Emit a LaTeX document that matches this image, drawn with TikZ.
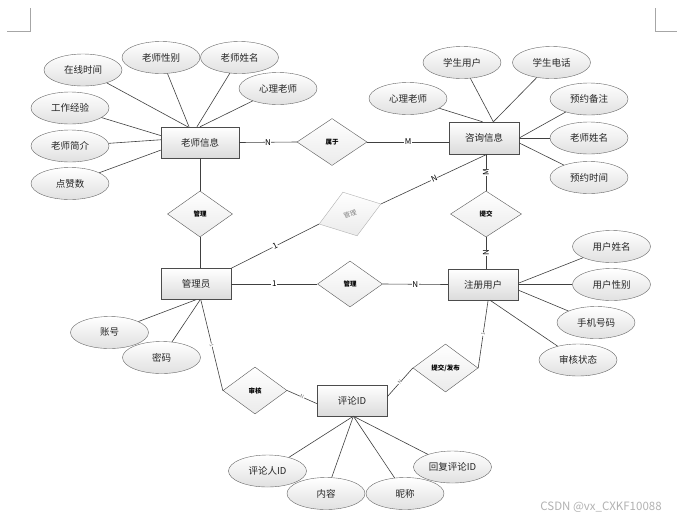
\documentclass[tikz,border=0pt]{standalone}
\usepackage{fontspec}
\setmainfont{Noto Sans CJK SC}
\usetikzlibrary{shapes.geometric,calc}

\tikzset{
  entity/.style={rectangle, draw=black!70, top color=white, bottom color=black!14,
    minimum width=70pt, minimum height=31pt, inner sep=0pt, text=black!85,
    font=\fontsize{9.5}{11}\selectfont},
  attr/.style={ellipse, draw=black!60, top color=white, bottom color=black!12,
    minimum width=78pt, minimum height=32pt, inner sep=0pt, text=black!85,
    font=\fontsize{9.5}{11}\selectfont},
  rel/.style={diamond, aspect=1.4, draw=black!65, top color=white, bottom color=black!8,
    minimum width=65pt, minimum height=46pt, inner sep=0pt,
    font=\fontsize{6.5}{7}\selectfont\bfseries},
  link/.style={draw=black!75, line width=0.6pt},
  card/.style={fill=white, inner sep=0.6pt, font=\fontsize{8}{9}\selectfont},
  tinycard/.style={fill=white, inner sep=0.3pt, sloped, text=black!55,
    font=\fontsize{5}{5}\selectfont}
}

\begin{document}
\begin{tikzpicture}[x=1pt, y=-1pt]
    \path[use as bounding box, fill=white] (0,0) rectangle (677,520);
    %Page corners
    \draw[black!35] (7,31) -- (30,31) -- (30,8);
    \draw[black!35] (655,8) -- (655,31) -- (677,31);
    %Entities
    \node[entity, minimum width=78pt] (laoshi) at (200,142.5) {老师信息};
    \node[entity, minimum height=32pt] (zixun) at (484,138) {咨询信息};
    \node[entity] (gly) at (196,284) {管理员};
    \node[entity] (zhuce) at (483,284.5) {注册用户};
    \node[entity] (pinglun) at (352,400.5) {评论ID};
    %Relations
    \node[rel, minimum width=70pt, minimum height=47pt] (shuyu) at (332,142) {属于};
    \node[rel] (guanli1) at (200,214) {管理};
    \node[rel, draw=black!30, text=black!50, rotate=18,
          font=\fontsize{6.5}{7}\selectfont] (guanli2) at (350,214) {管理};
    \node[rel, minimum width=71pt] (tijiao) at (486,214) {提交};
    \node[rel] (guanli3) at (350,284) {管理};
    \node[rel, minimum width=64pt, minimum height=47pt] (shenhe) at (255,390.5) {审核};
    \node[rel, minimum height=48pt] (fabu) at (445.5,368) {提交/发布};
    %Attributes of 老师信息
    \node[attr] (zaixian) at (83,70) {在线时间};
    \node[attr] (xingbie) at (161,57.5) {老师性别};
    \node[attr] (xingming) at (239.5,57.5) {老师姓名};
    \node[attr] (xinli1) at (278,88.5) {心理老师};
    \node[attr] (jingyan) at (70,108) {工作经验};
    \node[attr] (jianjie) at (70,146) {老师简介};
    \node[attr] (dianzan) at (70,183.5) {点赞数};
    %Attributes of 咨询信息
    \node[attr] (xsyh) at (462,62.5) {学生用户};
    \node[attr] (xsdh) at (551.5,62.5) {学生电话};
    \node[attr] (xinli2) at (408,98.5) {心理老师};
    \node[attr] (beizhu) at (589,99) {预约备注};
    \node[attr] (lsxm) at (589,138) {老师姓名};
    \node[attr] (yysj) at (589,177.5) {预约时间};
    %Attributes of 注册用户
    \node[attr] (yhxm) at (611.5,246.5) {用户姓名};
    \node[attr] (yhxb) at (611.5,284.5) {用户性别};
    \node[attr] (sjhm) at (596,322.5) {手机号码};
    \node[attr] (shzt) at (578,360) {审核状态};
    %Attributes of 管理员
    \node[attr] (zhanghao) at (109.5,332.5) {账号};
    \node[attr] (mima) at (161.5,357.5) {密码};
    %Attributes of 评论ID
    \node[attr] (plr) at (267.5,471) {评论人ID};
    \node[attr] (neirong) at (326,493.5) {内容};
    \node[attr] (nicheng) at (405,493.5) {昵称};
    \node[attr] (huifu) at (452.5,467) {回复评论ID};
    %Attribute lines
    \foreach \a/\b in {zaixian/128, xingbie/125, xingming/101, xinli1/90,
                       jingyan/170, jianjie/176, dianzan/191}
      \draw[link] (\a) -- (laoshi.\b);
    \foreach \a/\b in {xsyh/60, xsdh/60, xinli2/95, beizhu/0, lsxm/0, yysj/352}
      \draw[link] (\a) -- (zixun.\b);
    \foreach \a/\b in {yhxm/2, yhxb/0, sjhm/351, shzt/294}
      \draw[link] (\a) -- (zhuce.\b);
    \foreach \a/\b in {zhanghao/270, mima/285}
      \draw[link] (\a) -- (gly.\b);
    \foreach \a in {plr, neirong, nicheng, huifu}
      \draw[link] (\a) -- (pinglun.275);
    %Relation lines
    \draw[link] (laoshi.east) -- (shuyu.west) node[card, midway] {N};
    \draw[link] (shuyu.east) -- (shuyu.east -| zixun.west) node[card, midway] {M};
    \draw[link] (laoshi.south) -- (guanli1.north);
    \draw[link] (guanli1.south) -- (guanli1.south |- gly.north);
    \draw[link] (gly.north east) -- (guanli2.west) node[card, sloped, midway] {1};
    \draw[link] (guanli2.east) -- (zixun.281) node[card, sloped, midway] {N};
    \draw[link] (tijiao.north |- zixun.south) -- (tijiao.north) node[card, rotate=90, midway] {M};
    \draw[link] (tijiao.south) -- (tijiao.south |- zhuce.north) node[card, rotate=90, midway] {N};
    \draw[link] (gly.east) -- (guanli3.west) node[card, midway] {1};
    \draw[link] (guanli3.east) -- (zhuce.west) node[card, midway] {N};
    \draw[link] (gly.287) -- (shenhe.west) node[tinycard, midway] {1};
    \draw[link] (shenhe.east) -- (pinglun.185) node[tinycard, midway] {N};
    \draw[link] (pinglun.6) -- (fabu.west) node[tinycard, midway] {N};
    \draw[link] (fabu.east) -- (zhuce.288) node[tinycard, midway] {1};
    %Watermark
    \node[text=black!30, font=\fontsize{11.5}{13}\selectfont] (csdn) at (601,507) {CSDN @vx\_CXKF10088};
\end{tikzpicture}
\end{document}
